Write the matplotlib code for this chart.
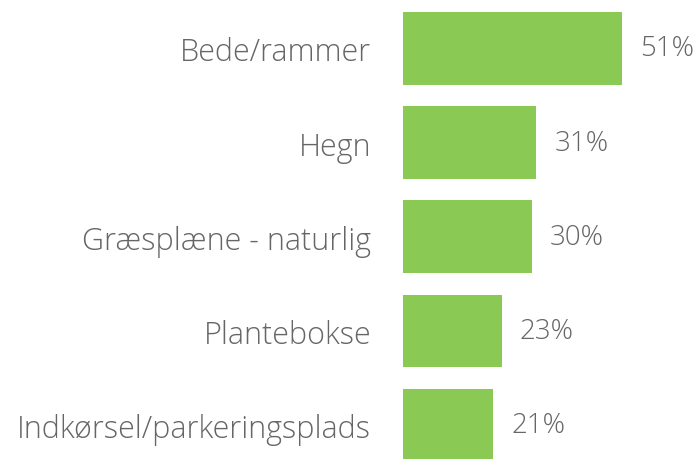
import matplotlib.pyplot as plt

categories = ["Bede/rammer", "Hegn", "Græsplæne - naturlig", "Plantebokse", "Indkørsel/parkeringsplads"]
values = [51, 31, 30, 23, 21]

BAR_COLOR = "#8bc955"
TEXT_COLOR = "#666666"

plt.rcParams["font.family"] = ["Open Sans", "DejaVu Sans"]

fig = plt.figure(figsize=(6.97, 4.60), dpi=100)
ax = fig.add_axes([403 / 697, 0, 294 / 697, 1])

pos = list(range(len(categories)))
ax.barh(pos, values, height=0.772, color=BAR_COLOR)
ax.set_xlim(0, 294 / 4.3)
ax.set_ylim(4.36, -0.525)

ax.set_yticks(pos)
ax.set_yticklabels(categories, fontsize=22, color=TEXT_COLOR, fontweight="light")
ax.tick_params(axis="y", length=0, pad=23)
ax.set_xticks([])
for s in ax.spines.values():
    s.set_visible(False)

for p, v in zip(pos, values):
    ax.annotate(f"{v}%", (v, p), xytext=(13, 0), textcoords="offset points",
                va="center", ha="left", fontsize=20, color=TEXT_COLOR, fontweight="light")

fig.savefig("out.png", dpi=100)
